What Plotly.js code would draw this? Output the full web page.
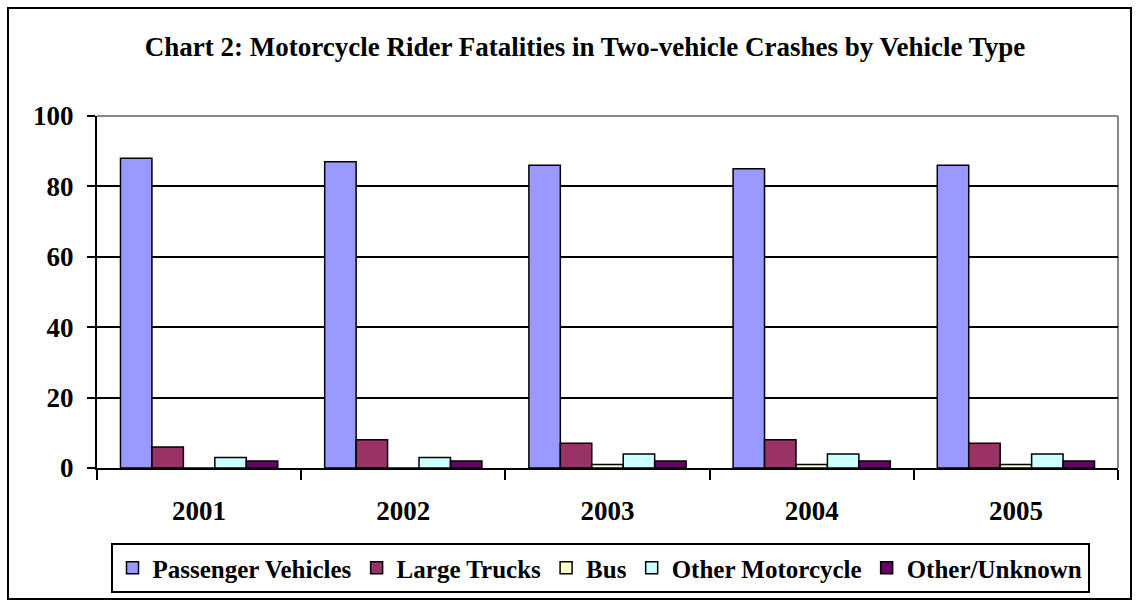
<!DOCTYPE html>
<html><head><meta charset="utf-8">
<script src="https://cdn.plot.ly/plotly-3.0.1.min.js"></script>
<style>html,body{margin:0;padding:0;background:#fff}#chart{width:1139px;height:607px}</style>
</head><body><div id="chart"></div>
<script>
const years = ['2001','2002','2003','2004','2005'];
const seriesNames = ['Passenger Vehicles','Large Trucks','Bus','Other Motorcycle','Other/Unknown'];
const passengerVehicles = [88, 87, 86, 85, 86];
const largeTrucks = [6, 8, 7, 8, 7];
const bus = [0, 0, 1, 1, 1];
const otherMotorcycle = [3, 3, 4, 4, 4];
const otherUnknown = [2, 2, 2, 2, 2];
const colors = ['#9999FF','#993366','#FFFFCC','#CCFFFF','#660066'];
const values = [passengerVehicles, largeTrucks, bus, otherMotorcycle, otherUnknown];

const font = 'Liberation Serif, Times New Roman, serif';
const traces = values.map((v,i)=>({
  type:'bar', x: years, y: v, name: seriesNames[i],
  marker:{color: colors[i], line:{color:'#000', width:1.5}}
}));

const L=97, T=116, W=1021, H=352;
const px = x => (x-L)/W, py = y => (T+H-y)/H;

const layout = {
  width:1139, height:607,
  margin:{l:L, r:1139-L-W, t:T, b:607-T-H},
  paper_bgcolor:'#fff', plot_bgcolor:'#fff',
  barmode:'group', bargap:0.23, bargroupgap:0,
  title:{text:'<b>Chart 2: Motorcycle Rider Fatalities in Two-vehicle Crashes by Vehicle Type</b>',
    font:{family:font, size:27, color:'#000'}, x:585/1139, xanchor:'center', y:1-47/607, yanchor:'middle'},
  font:{family:font, color:'#000'},
  xaxis:{type:'category', tickson:'boundaries', ticks:'outside', ticklen:10, tickwidth:2, tickcolor:'#000',
    showline:true, linecolor:'#000', linewidth:2, showgrid:false, ticklabelstandoff:18,
    tickfont:{family:font, size:27, color:'#000', weight:'bold'}, fixedrange:true},
  yaxis:{range:[0,100], tickvals:[0,20,40,60,80,100],
    ticks:'outside', ticklen:8, tickwidth:2, tickcolor:'#000', ticklabelstandoff:8,
    showline:true, linecolor:'#000', linewidth:2, showgrid:true, gridcolor:'#000', gridwidth:2,
    zeroline:false, tickfont:{family:font, size:27, color:'#000', weight:'bold'}, fixedrange:true},
  showlegend:true,
  legend:{orientation:'h', x:px(600), xanchor:'center', y:py(543), yanchor:'top',
    bordercolor:'#000', borderwidth:2, bgcolor:'#fff',
    font:{family:font, size:25, color:'#000', weight:'bold'}, itemwidth:30, tracegroupgap:0},
  shapes:[
    {type:'line', xref:'paper', yref:'paper', x0:0, x1:1, y0:1, y1:1, line:{color:'#888', width:2}, layer:'above'},
    {type:'line', xref:'paper', yref:'paper', x0:1, x1:1, y0:0, y1:1, line:{color:'#888', width:2}, layer:'below'},
    {type:'rect', xref:'paper', yref:'paper', x0:px(8), x1:px(1131), y0:py(599), y1:py(8), line:{color:'#000', width:2}, fillcolor:'rgba(0,0,0,0)', layer:'below'}
  ]
};
Plotly.newPlot('chart', traces, layout, {displayModeBar:false, staticPlot:true});
</script></body></html>
